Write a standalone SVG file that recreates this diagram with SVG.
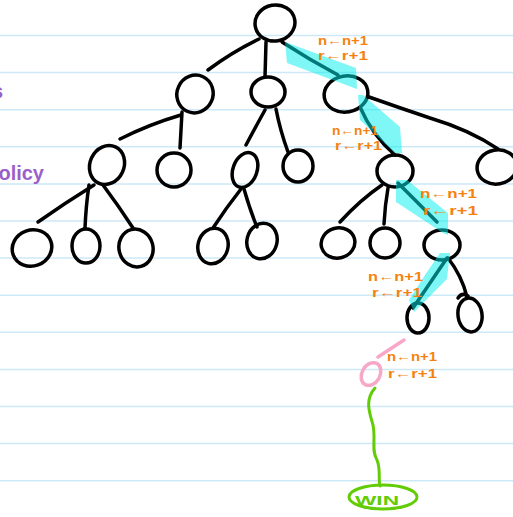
<svg xmlns="http://www.w3.org/2000/svg" width="513" height="517" viewBox="0 0 513 517">
  <style>
    .rule { stroke: #cde9f7; stroke-width: 1.5; }
    .edge { fill: none; stroke: #000; stroke-width: 3.5; stroke-linecap: round; stroke-linejoin: round; }
    .node { fill: none; stroke: #000; stroke-width: 3.5; }
    .hl { fill: #00f0f0; fill-opacity: 0.5; stroke: none; }
    .upd { font-family: "Liberation Sans", Arial, sans-serif; font-size: 12.5px; font-weight: bold; fill: #f5820f; }
    .note { font-family: "Liberation Sans", Arial, sans-serif; font-size: 20px; font-weight: bold; fill: #9b5fc9; }
    .green { fill: none; stroke: #62cc06; stroke-width: 3; stroke-linecap: round; }
    .pink { fill: none; stroke: #f7a8c8; stroke-width: 3.5; stroke-linecap: round; }
  </style>

  <rect width="513" height="517" fill="#fff"/>

  <!-- ruled notebook lines -->
  <g id="ruling">
    <line class="rule" x1="0" y1="35.5" x2="513" y2="35.5"/>
    <line class="rule" x1="0" y1="72.6" x2="513" y2="72.6"/>
    <line class="rule" x1="0" y1="109.7" x2="513" y2="109.7"/>
    <line class="rule" x1="0" y1="146.8" x2="513" y2="146.8"/>
    <line class="rule" x1="0" y1="183.9" x2="513" y2="183.9"/>
    <line class="rule" x1="0" y1="221" x2="513" y2="221"/>
    <line class="rule" x1="0" y1="258.1" x2="513" y2="258.1"/>
    <line class="rule" x1="0" y1="295.2" x2="513" y2="295.2"/>
    <line class="rule" x1="0" y1="332.3" x2="513" y2="332.3"/>
    <line class="rule" x1="0" y1="369.4" x2="513" y2="369.4"/>
    <line class="rule" x1="0" y1="406.5" x2="513" y2="406.5"/>
    <line class="rule" x1="0" y1="443.6" x2="513" y2="443.6"/>
    <line class="rule" x1="0" y1="480.7" x2="513" y2="480.7"/>
  </g>

  <!-- margin notes, running off the left edge -->
  <text class="note" x="-8" y="98">s</text>
  <text class="note" x="44" y="180" text-anchor="end">policy</text>

  <!-- tree edges -->
  <g id="connectors">
    <path class="edge" d="M259,39 Q232,52 208,70"/>
    <path class="edge" d="M266,42 L265,77"/>
    <path class="edge" d="M282,42 Q310,60 338,75"/>
    <path class="edge" d="M181,115 Q150,124 120,139"/>
    <path class="edge" d="M182,112 Q181,130 180,148"/>
    <path class="edge" d="M265,110 Q255,128 246,145"/>
    <path class="edge" d="M276,109 Q280,130 288,152"/>
    <path class="edge" d="M360,107 Q372,135 395,155"/>
    <path class="edge" d="M369,97 Q400,108 430,118 Q470,130 498,149"/>
    <path class="edge" d="M94,185 Q65,203 38,222"/>
    <path class="edge" d="M89,185 Q86,205 85,228"/>
    <path class="edge" d="M103,185 Q118,205 133,228"/>
    <path class="edge" d="M241,189 Q226,208 213,228"/>
    <path class="edge" d="M244,189 Q250,210 257,227"/>
    <path class="edge" d="M382,185 Q360,200 340,222"/>
    <path class="edge" d="M388,188 Q385,205 384,224"/>
    <path class="edge" d="M398,183 Q420,205 437,222"/>
    <path class="edge" d="M447,258 Q430,283 413,308"/>
    <path class="edge" d="M448,258 Q462,276 467,297 M458,298 Q462,292 468,296"/>
  </g>

  <!-- tree nodes -->
  <g id="root"><ellipse class="node" cx="275" cy="23" rx="20" ry="18" transform="rotate(-10 275 23)"/></g>
  <g id="n1a"><ellipse class="node" cx="195" cy="94" rx="18" ry="19" transform="rotate(25 195 94)"/></g>
  <g id="n1b"><ellipse class="node" cx="268" cy="92" rx="17" ry="15"/></g>
  <g id="n1c"><ellipse class="node" cx="346" cy="94" rx="22" ry="18" transform="rotate(-10 346 94)"/></g>
  <g id="n2a"><ellipse class="node" cx="107" cy="165" rx="17" ry="20" transform="rotate(25 107 165)"/></g>
  <g id="n2b"><ellipse class="node" cx="174" cy="170" rx="17" ry="17"/></g>
  <g id="n2c"><ellipse class="node" cx="245" cy="170" rx="12" ry="18" transform="rotate(20 245 170)"/></g>
  <g id="n2d"><ellipse class="node" cx="298" cy="166" rx="15" ry="16"/></g>
  <g id="n2e"><ellipse class="node" cx="395" cy="171" rx="18" ry="16"/></g>
  <g id="n2f"><ellipse class="node" cx="497" cy="167" rx="20" ry="17" transform="rotate(-10 497 167)"/></g>
  <g id="n3a"><ellipse class="node" cx="32" cy="248" rx="20" ry="18" transform="rotate(-20 32 248)"/></g>
  <g id="n3b"><ellipse class="node" cx="86" cy="246" rx="14" ry="17"/></g>
  <g id="n3c"><ellipse class="node" cx="136" cy="248" rx="17" ry="19" transform="rotate(-15 136 248)"/></g>
  <g id="n3d"><ellipse class="node" cx="213" cy="246" rx="15" ry="18" transform="rotate(15 213 246)"/></g>
  <g id="n3e"><ellipse class="node" cx="262" cy="241" rx="15" ry="18" transform="rotate(15 262 241)"/></g>
  <g id="n3f"><ellipse class="node" cx="338" cy="243" rx="17" ry="15" transform="rotate(-15 338 243)"/></g>
  <g id="n3g"><ellipse class="node" cx="385" cy="243" rx="15" ry="15"/></g>
  <g id="n3h"><ellipse class="node" cx="442" cy="245" rx="18" ry="15"/></g>
  <g id="n4a"><ellipse class="node" cx="418" cy="318" rx="11" ry="15"/></g>
  <g id="n4b"><ellipse class="node" cx="470" cy="315" rx="12" ry="17" transform="rotate(-8 470 315)"/></g>

  <!-- highlighted selection path -->
  <g id="path-highlight">
    <polygon class="hl" points="285,42 356,68 357,89 287,63"/>
    <polygon class="hl" points="358,95 363,95 400,127 402,153 395,153 360,120"/>
    <polygon class="hl" points="396,180 407,180 448,213 448,235 443,233 396,202"/>
    <polygon class="hl" points="440,253 450,253 447,279 414,312 409,300 425,275"/>
  </g>

  <!-- update rules along the path -->
  <g id="updates">
    <text class="upd" x="318" y="45" textLength="50" lengthAdjust="spacingAndGlyphs">n←n+1</text>
    <text class="upd" x="318" y="60" textLength="50" lengthAdjust="spacingAndGlyphs">r←r+1</text>
    <text class="upd" x="332" y="135" textLength="46" lengthAdjust="spacingAndGlyphs">n←n+1</text>
    <text class="upd" x="335" y="150" textLength="47" lengthAdjust="spacingAndGlyphs">r←r+1</text>
    <text class="upd" x="420" y="198" textLength="57" lengthAdjust="spacingAndGlyphs">n←n+1</text>
    <text class="upd" x="423" y="215" textLength="55" lengthAdjust="spacingAndGlyphs">r←r+1</text>
    <text class="upd" x="368" y="281" textLength="55" lengthAdjust="spacingAndGlyphs">n←n+1</text>
    <text class="upd" x="372" y="297" textLength="50" lengthAdjust="spacingAndGlyphs">r←r+1</text>
    <text class="upd" x="387" y="361" textLength="50" lengthAdjust="spacingAndGlyphs">n←n+1</text>
    <text class="upd" x="388" y="378" textLength="49" lengthAdjust="spacingAndGlyphs">r←r+1</text>
  </g>

  <!-- newly expanded node -->
  <g id="new-node">
    <path class="pink" d="M378,357 L404,340"/>
    <ellipse class="pink" cx="371" cy="374" rx="9" ry="12" transform="rotate(30 371 374)"/>
  </g>

  <!-- rollout down to the terminal state -->
  <g id="rollout">
    <path class="green" d="M375,388 C364,400 370,414 373,425 C376,440 371,450 377,460 C381,470 378,478 380,486"/>
  </g>
  <g id="win">
    <ellipse class="green" cx="383" cy="497" rx="34" ry="12"/>
    <text x="377" y="505" text-anchor="middle" textLength="44" lengthAdjust="spacingAndGlyphs" font-family="Liberation Sans, Arial, sans-serif" font-size="12" font-weight="bold" fill="#62cc06">WIN</text>
  </g>
</svg>
